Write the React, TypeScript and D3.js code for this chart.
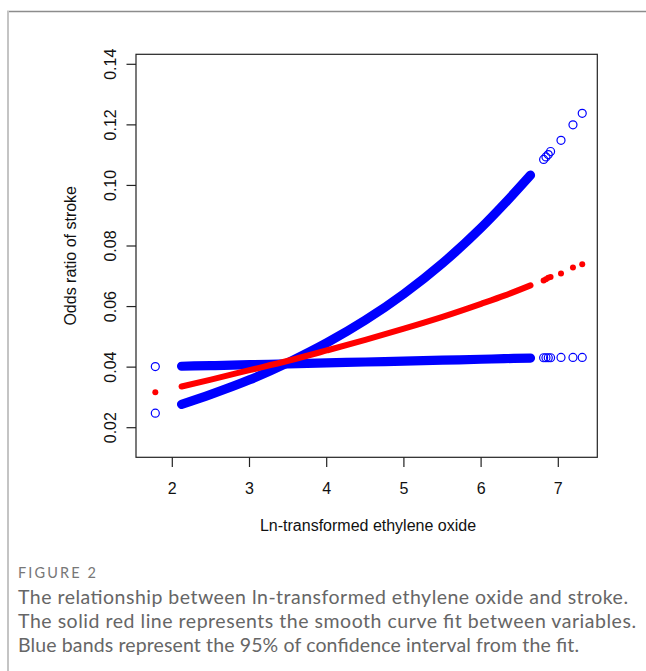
import React from 'react';
import * as d3 from 'd3';

// dense part of the data
const denseX = [2.12, 2.5, 3.0, 3.5, 4.0, 4.5, 5.0, 5.5, 6.0, 6.3, 6.64];
const denseFit = [0.0336, 0.0359, 0.039, 0.0421, 0.0455, 0.049, 0.0527, 0.0566, 0.0609, 0.0636, 0.067];
const denseSteep = [0.0277, 0.031, 0.0358, 0.0415, 0.048, 0.0555, 0.0642, 0.0743, 0.086, 0.0939, 0.1034];
const denseFlat = [0.0403, 0.0405, 0.0408, 0.0411, 0.0414, 0.0417, 0.042, 0.0423, 0.0426, 0.0428, 0.043];

// isolated observations
const sparseX = [1.78, 6.81, 6.84, 6.87, 6.9, 7.035, 7.19, 7.31];
const sparseFit = [0.0317, 0.0686, 0.069, 0.0695, 0.0698, 0.0709, 0.0729, 0.074];
const sparseSteep = [0.0248, 0.1086, 0.1094, 0.1102, 0.1112, 0.1149, 0.12, 0.1238];
const sparseFlat = [0.0402, 0.0431, 0.0431, 0.0431, 0.0431, 0.0432, 0.0432, 0.0432];

const xTicks = [2, 3, 4, 5, 6, 7];
const yTicks = [0.02, 0.04, 0.06, 0.08, 0.1, 0.12, 0.14];

const captionLines = [
  'The relationship between ln-transformed ethylene oxide and stroke.',
  'The solid red line represents the smooth curve fit between variables.',
  'Blue bands represent the 95% of confidence interval from the fit.',
];
const captionWidths = [610, 618, 561];

const App = () => {
  const W = 646;
  const H = 671;
  const box = { left: 136, right: 597.3, top: 54.3, bottom: 457.3 };

  const x = d3.scaleLinear().domain([2, 7]).range([172.3, 558.3]);
  const y = d3.scaleLinear().domain([0.02, 0.14]).range([427.7, 64.3]);

  const line = (vals: number[]) =>
    d3
      .line<number>()
      .x((d, i) => x(denseX[i]))
      .y((d) => y(d))
      .curve(d3.curveMonotoneX)(vals) || '';

  const font = "'Liberation Sans', Arial, sans-serif";
  const capFont = "Lato, 'Open Sans', sans-serif";
  const blue = '#0000ff';
  const red = '#ff0000';

  return (
    <svg width={W} height={H} style={{ position: 'absolute', left: 0, top: 0 }}>
      <rect x={0} y={0} width={W} height={H} fill="#fff" />
      {/* frame of the figure */}
      <line x1={7} x2={W} y1={11.5} y2={11.5} stroke="#8c8c8c" strokeWidth={1.5} />
      <line x1={8} x2={8} y1={11} y2={H} stroke="#c4c4c4" strokeWidth={2} />

      {/* plot box */}
      <rect
        x={box.left}
        y={box.top}
        width={box.right - box.left}
        height={box.bottom - box.top}
        fill="none"
        stroke="#222"
        strokeWidth={1.2}
      />

      {/* bands */}
      <path d={line(denseSteep)} fill="none" stroke={blue} strokeWidth={9.2} strokeLinecap="round" />
      <path d={line(denseFlat)} fill="none" stroke={blue} strokeWidth={9.2} strokeLinecap="round" />
      <path d={line(denseFit)} fill="none" stroke={red} strokeWidth={6} strokeLinecap="round" />

      {sparseX.map((v, i) => (
        <g key={'s' + i}>
          <circle cx={x(v)} cy={y(sparseSteep[i])} r={4} fill="none" stroke={blue} strokeWidth={1.2} />
          <circle cx={x(v)} cy={y(sparseFlat[i])} r={4} fill="none" stroke={blue} strokeWidth={1.2} />
          <circle cx={x(v)} cy={y(sparseFit[i])} r={3} fill={red} />
        </g>
      ))}

      {/* x axis */}
      {xTicks.map((t) => (
        <g key={'x' + t}>
          <line x1={x(t)} x2={x(t)} y1={box.bottom} y2={467} stroke="#222" strokeWidth={1.2} />
          <text x={x(t)} y={493.5} textAnchor="middle" fontFamily={font} fontSize={16} fill="#111">
            {t}
          </text>
        </g>
      ))}
      <text x={368} y={531} textAnchor="middle" fontFamily={font} fontSize={16} fill="#111">
        Ln-transformed ethylene oxide
      </text>

      {/* y axis */}
      {yTicks.map((t) => (
        <g key={'y' + t}>
          <line x1={box.left} x2={126.5} y1={y(t)} y2={y(t)} stroke="#222" strokeWidth={1.2} />
          <text
            transform={`translate(115.5,${y(t)}) rotate(-90)`}
            textAnchor="middle"
            fontFamily={font}
            fontSize={16}
            fill="#111"
          >
            {t.toFixed(2)}
          </text>
        </g>
      ))}
      <text
        transform={`translate(75.5,${(box.top + box.bottom) / 2}) rotate(-90)`}
        textAnchor="middle"
        fontFamily={font}
        fontSize={16}
        fill="#111"
      >
        Odds ratio of stroke
      </text>

      {/* caption */}
      <text x={18} y={578} fontFamily={capFont} fontSize={14.5} fill="#777" textLength={78} lengthAdjust="spacing">
        FIGURE 2
      </text>
      {captionLines.map((c, i) => (
        <text
          key={'c' + i}
          x={18}
          y={604 + i * 24}
          fontFamily={capFont}
          fontSize={19.5}
          fill="#666"
          textLength={captionWidths[i]}
          lengthAdjust="spacing"
        >
          {c}
        </text>
      ))}
    </svg>
  );
};

export default App;
